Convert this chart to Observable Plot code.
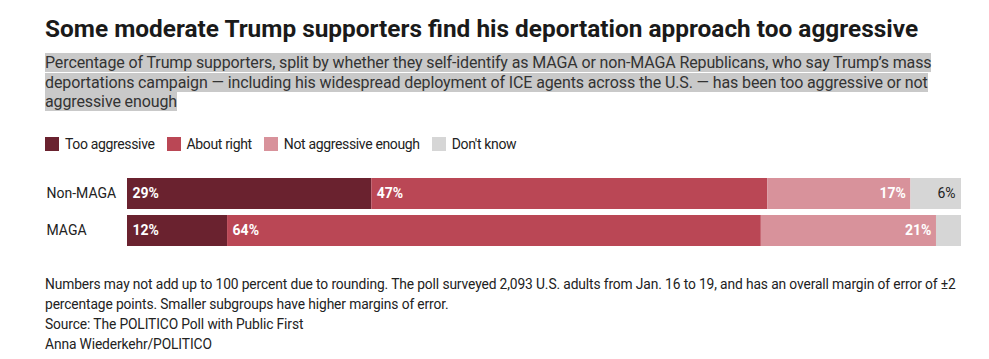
<!DOCTYPE html>
<html><head><meta charset="utf-8">
<script src="https://cdn.jsdelivr.net/npm/d3@7"></script>
<script src="https://cdn.jsdelivr.net/npm/@observablehq/plot@0.6"></script>
<style>
body{margin:0;background:#fff;font-family:Roboto,"Noto Sans",sans-serif;color:#222;width:989px;overflow:hidden}
.pad{padding-left:45px}
h1{font-size:24.4px;font-weight:700;margin:0;padding-top:13px;line-height:32px;color:#1a1a1a}
.sub{font-size:16px;line-height:19.5px;margin-top:8px;color:#333;letter-spacing:-0.12px}
.sub span{background:#c9c9c9}
.legend{display:flex;align-items:center;margin-top:23px;height:18px;font-size:14px;color:#222;letter-spacing:-0.35px}
.legend .item{display:flex;align-items:center;margin-right:12px}
.legend .sw{width:14px;height:14px;margin-right:6px}
#chart{margin-top:19px;height:80px}
.foot{font-size:13.8px;line-height:20.3px;margin-top:22px;color:#222;letter-spacing:-0.12px}
</style></head>
<body>
<div class="pad">
<h1>Some moderate Trump supporters find his deportation approach too aggressive</h1>
<div class="sub"><span>Percentage of Trump supporters, split by whether they self-identify as MAGA or non-MAGA Republicans, who say Trump’s mass</span><br><span>deportations campaign — including his widespread deployment of ICE agents across the U.S. — has been too aggressive or not</span><br><span>aggressive enough</span></div>
<div class="legend" id="legend"></div>
</div>
<div id="chart"></div>
<div class="pad foot">Numbers may not add up to 100 percent due to rounding. The poll surveyed 2,093 U.S. adults from Jan. 16 to 19, and has an overall margin of error of ±2<br>percentage points. Smaller subgroups have higher margins of error.<br>Source: The POLITICO Poll with Public First<br>Anna Wiederkehr/POLITICO</div>
<script>
const groups = ["Non-MAGA", "MAGA"];
const categories = ["Too aggressive", "About right", "Not aggressive enough", "Don't know"];
const colors = ["#6a222f", "#ba4755", "#d8929b", "#d6d6d6"];
const nonMaga = [29, 47, 17, 6];
const maga = [12, 64, 21, 3];
const showLabel = {"Non-MAGA": [true, true, true, true], "MAGA": [true, true, true, false]};

const data = [];
[nonMaga, maga].forEach((vals, gi) => {
  vals.forEach((v, ci) => data.push({group: groups[gi], category: categories[ci], ci, value: v, show: showLabel[groups[gi]][ci]}));
});

const leg = document.getElementById("legend");
categories.forEach((c, i) => {
  const it = document.createElement("div"); it.className = "item";
  const sw = document.createElement("div"); sw.className = "sw"; sw.style.background = colors[i];
  const t = document.createElement("span"); t.textContent = c;
  it.appendChild(sw); it.appendChild(t); leg.appendChild(it);
});

const stackOpts = {y: "group", x: "value", z: "category", offset: "normalize"};
const chart = Plot.plot({
  width: 989, height: 80,
  marginLeft: 127, marginRight: 28, marginTop: 0, marginBottom: 0,
  style: {fontFamily: "Roboto, sans-serif", fontSize: "14px", color: "#222"},
  x: {axis: null},
  y: {domain: groups, padding: 0.15, label: null},
  color: {domain: categories, range: colors},
  marks: [
    Plot.barX(data, Plot.stackX({...stackOpts, fill: "category"})),
    Plot.text(data, Plot.stackX1({...stackOpts, text: d => (d.ci < 2 && d.show) ? d.value + "%" : null,
      textAnchor: "start", dx: 5, fill: "white", fontWeight: "bold", fontSize: 14})),
    Plot.text(data, Plot.stackX2({...stackOpts, text: d => (d.ci === 2 && d.show) ? d.value + "%" : null,
      textAnchor: "end", dx: -5, fill: "white", fontWeight: "bold", fontSize: 14})),
    Plot.text(data, Plot.stackX2({...stackOpts, text: d => (d.ci === 3 && d.show) ? d.value + "%" : null,
      textAnchor: "end", dx: -6, fill: "#222", fontSize: 14})),
    Plot.axisY({tickSize: 0, textAnchor: "start", dx: -72, fontSize: 14, label: null})
  ]
});
document.getElementById("chart").appendChild(chart);
</script>
</body></html>
